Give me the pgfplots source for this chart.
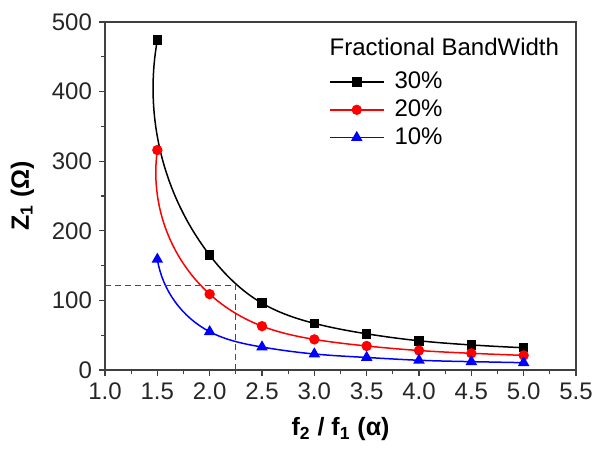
\documentclass[border=0pt]{standalone}
\usepackage{fontspec}
\setmainfont{Liberation Sans}
\usepackage{pgfplots}
\pgfplotsset{compat=1.18}
\usetikzlibrary{hobby}

\begin{document}
\begin{tikzpicture}
\useasboundingbox (0,0) rectangle (302pt,225pt);
\begin{axis}[
    at={(52.5pt,40pt)}, anchor=south west,
    scale only axis,
    width=235.5pt, height=174pt,
    xmin=1.0, xmax=5.5,
    ymin=0, ymax=500,
    xtick={1.0,1.5,...,5.5},
    ytick={0,100,...,500},
    minor x tick num=1,
    minor y tick num=1,
    tick align=outside,
    xtick pos=bottom, ytick pos=left,
    major tick length=3pt,
    minor tick length=2pt,
    axis line style={black!75, line width=0.75pt},
    every tick/.style={black!75, line width=0.6pt},
    /pgf/number format/assume math mode=true,
    xticklabel style={/pgf/number format/.cd, fixed, fixed zerofill, precision=1},
    ticklabel style={font=\fontsize{12}{14}\selectfont, text=black!85},
    xlabel={\bfseries f\textsubscript{2} / f\textsubscript{1} (α)},
    ylabel={\bfseries Z\textsubscript{1} (Ω)},
    label style={font=\fontsize{12.5}{15}\selectfont},
    xlabel style={yshift=-2pt},
    ylabel style={yshift=2pt},
    legend cell align=left,
    legend style={at={(0.462,0.88)}, anchor=north west, draw=none, fill=none,
        font=\fontsize{12}{14}\selectfont, row sep=0pt, column sep=3pt},
    legend image code/.code={\draw[mark repeat=2,mark phase=2]
        plot coordinates {(0pt,0pt)(13.5pt,0pt)(27pt,0pt)};},
]
\addplot[black, line width=0.75pt, hobby, mark=square*, mark size=2pt]
coordinates {(1.5,474)(2.0,165)(2.5,96)(3.0,67)(3.5,52)(4.0,42)(4.5,36)(5.0,32)};
\addlegendentry{30\%}
\addplot[red, line width=0.75pt, hobby, mark=*, mark size=2.2pt]
coordinates {(1.5,316)(2.0,109)(2.5,63)(3.0,44)(3.5,34.5)(4.0,28)(4.5,24)(5.0,21)};
\addlegendentry{20\%}
\addplot[blue, line width=0.75pt, hobby, mark=triangle*, mark size=2.6pt]
coordinates {(1.5,159)(2.0,55)(2.5,33)(3.0,23)(3.5,18)(4.0,14)(4.5,12)(5.0,10.5)};
\addlegendentry{10\%}
\addplot[black!70, line width=0.5pt, dash pattern=on 3pt off 2pt, forget plot]
coordinates {(1.0,122)(2.25,122)(2.25,0)};
\node[anchor=north west, inner sep=0pt, font=\fontsize{12}{14}\selectfont]
    at (rel axis cs:0.476,0.955) {Fractional BandWidth};
\end{axis}
\end{tikzpicture}
\end{document}
